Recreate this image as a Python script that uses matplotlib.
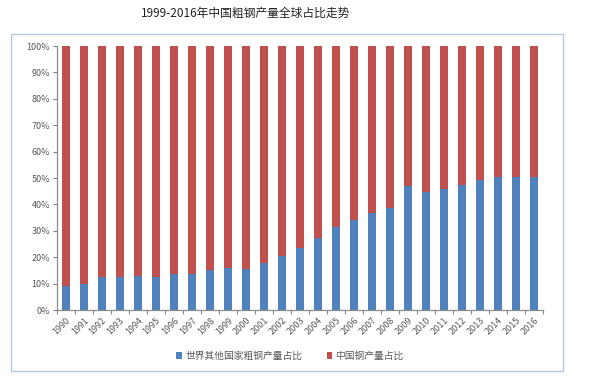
import matplotlib.pyplot as plt
from matplotlib.patches import Rectangle
import numpy as np

plt.rcParams['font.family'] = ['Noto Sans CJK SC', 'DejaVu Sans']

years = [str(y) for y in range(1990, 2017)]
other_share = [9.0, 9.8, 12.4, 12.4, 13.0, 12.6, 13.6, 13.8, 15.2, 16.0,
               15.4, 17.9, 20.6, 23.5, 27.2, 31.3, 34.1, 36.9, 38.5, 47.0,
               44.8, 45.7, 47.2, 49.4, 50.4, 50.4, 50.4]
china_share = [100 - v for v in other_share]

blue = '#4F81BD'
red = '#C0504D'
grey = '#7F7F7F'

fig = plt.figure(figsize=(6.1, 3.84), dpi=100)
ax = fig.add_axes([57 / 610, 1 - 310 / 384, (543 - 57) / 610, (310 - 46) / 384])

x = np.arange(len(years))
ax.bar(x, other_share, width=0.4, color=blue, label='世界其他国家粗钢产量占比')
ax.bar(x, china_share, width=0.4, bottom=other_share, color=red, label='中国钢产量占比')

ax.set_xlim(-0.5, len(years) - 0.5)
ax.set_ylim(0, 100)
ax.set_yticks(range(0, 101, 10))
ax.set_yticklabels([f'{v}%' for v in range(0, 101, 10)])
ax.set_xticks(x)
ax.set_xticklabels(years, rotation=45, ha='right', rotation_mode='anchor')
ax.set_xticks(np.arange(-0.5, len(years), 1), minor=True)

for s in ['top', 'right']:
    ax.spines[s].set_visible(False)
for s in ['left', 'bottom']:
    ax.spines[s].set_color('#8C8C8C')
    ax.spines[s].set_linewidth(0.9)

ax.tick_params(axis='y', labelsize=6.5, colors=grey, length=3, width=0.8, pad=2)
ax.tick_params(axis='y', labelcolor='#595959')
ax.tick_params(axis='x', which='major', length=0, labelsize=6.5, labelcolor='#595959', pad=4)
ax.tick_params(axis='x', which='minor', length=3, width=0.8, color='#8C8C8C')

fig.legend(loc='center', bbox_to_anchor=(290 / 610, 1 - 356 / 384), ncol=2,
           frameon=False, fontsize=7, handlelength=0.6, handleheight=0.6,
           handletextpad=0.3, columnspacing=2.5, labelcolor='#595959')

fig.text(246 / 610, 1 - 13 / 384, '1999-2016年中国粗钢产量全球占比走势',
         ha='center', va='center', fontsize=8.5, color='#222222')

fig.patches.append(Rectangle((11 / 610, 1 - 371 / 384), (563 - 11) / 610, (371 - 34) / 384,
                             transform=fig.transFigure, fill=False,
                             edgecolor='#B4C8E0', linewidth=1))

fig.savefig('out.png', dpi=100)
